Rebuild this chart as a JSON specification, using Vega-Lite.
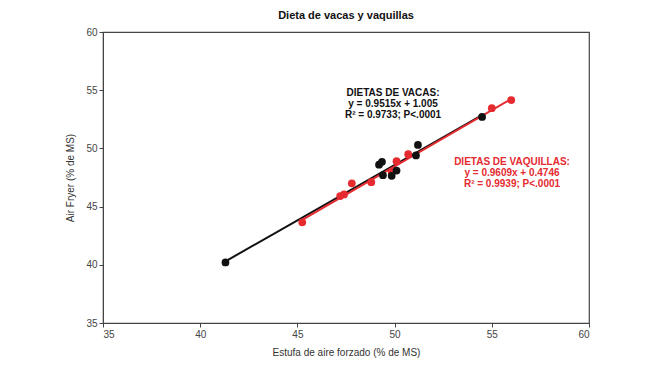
{
  "$schema": "https://vega.github.io/schema/vega-lite/v6.json",
  "width": 486,
  "height": 291,
  "autosize": "none",
  "padding": {"left": 103, "top": 32, "right": 74, "bottom": 50},
  "background": "white",
  "title": {"text": "Dieta de vacas y vaquillas", "fontSize": 11, "font": "Liberation Sans", "fontWeight": "bold", "color": "#111", "offset": 6},
  "config": {
    "view": {"stroke": "#444", "strokeWidth": 1.2},
    "axis": {"grid": false, "domainColor": "#444", "tickColor": "#444", "labelColor": "#444", "labelFont": "Liberation Sans", "labelFontSize": 10, "titleFont": "Liberation Sans", "titleFontSize": 10, "titleFontWeight": "normal", "titleColor": "#333", "tickSize": 4}
  },
  "datasets": {
    "points": [
      {"grupo": "Vacas", "estufa": 41.3, "airfryer": 40.2},
      {"grupo": "Vacas", "estufa": 49.2, "airfryer": 48.6},
      {"grupo": "Vacas", "estufa": 49.35, "airfryer": 48.85},
      {"grupo": "Vacas", "estufa": 49.4, "airfryer": 47.7},
      {"grupo": "Vacas", "estufa": 49.85, "airfryer": 47.65},
      {"grupo": "Vacas", "estufa": 50.1, "airfryer": 48.1},
      {"grupo": "Vacas", "estufa": 51.1, "airfryer": 49.4},
      {"grupo": "Vacas", "estufa": 51.2, "airfryer": 50.3},
      {"grupo": "Vacas", "estufa": 54.5, "airfryer": 52.7},
      {"grupo": "Vaquillas", "estufa": 45.25, "airfryer": 43.65},
      {"grupo": "Vaquillas", "estufa": 47.2, "airfryer": 45.9},
      {"grupo": "Vaquillas", "estufa": 47.4, "airfryer": 46.05},
      {"grupo": "Vaquillas", "estufa": 47.8, "airfryer": 47.0},
      {"grupo": "Vaquillas", "estufa": 48.8, "airfryer": 47.1},
      {"grupo": "Vaquillas", "estufa": 49.85, "airfryer": 48.0},
      {"grupo": "Vaquillas", "estufa": 50.1, "airfryer": 48.9},
      {"grupo": "Vaquillas", "estufa": 50.7, "airfryer": 49.5},
      {"grupo": "Vaquillas", "estufa": 55.0, "airfryer": 53.45},
      {"grupo": "Vaquillas", "estufa": 56.0, "airfryer": 54.15}
    ],
    "lines": [
      {"grupo": "Vacas", "estufa": 41.3, "airfryer": 40.3},
      {"grupo": "Vacas", "estufa": 54.5, "airfryer": 52.86},
      {"grupo": "Vaquillas", "estufa": 45.25, "airfryer": 43.85},
      {"grupo": "Vaquillas", "estufa": 56.0, "airfryer": 54.25}
    ],
    "labels": [
      {"grupo": "Vacas", "estufa": 49.92, "airfryer": 54.76, "texto": "DIETAS DE VACAS:"},
      {"grupo": "Vacas", "estufa": 49.92, "airfryer": 53.81, "texto": "y = 0.9515x + 1.005"},
      {"grupo": "Vacas", "estufa": 49.92, "airfryer": 52.86, "texto": "R² = 0.9733; P<.0001"},
      {"grupo": "Vaquillas", "estufa": 56.04, "airfryer": 48.83, "texto": "DIETAS DE VAQUILLAS:"},
      {"grupo": "Vaquillas", "estufa": 56.04, "airfryer": 47.88, "texto": "y = 0.9609x + 0.4746"},
      {"grupo": "Vaquillas", "estufa": 56.04, "airfryer": 46.93, "texto": "R² = 0.9939; P<.0001"}
    ]
  },
  "encoding": {
    "x": {"field": "estufa", "type": "quantitative", "scale": {"domain": [35, 60], "nice": false, "zero": false}, "axis": {"title": "Estufa de aire forzado (% de MS)", "values": [35, 40, 45, 50, 55, 60], "titlePadding": 8}},
    "y": {"field": "airfryer", "type": "quantitative", "scale": {"domain": [35, 60], "nice": false, "zero": false}, "axis": {"title": "Air Fryer (% de MS)", "values": [35, 40, 45, 50, 55, 60], "titlePadding": 10}},
    "color": {"field": "grupo", "type": "nominal", "scale": {"domain": ["Vacas", "Vaquillas"], "range": ["#111111", "#e52a30"]}, "legend": null}
  },
  "layer": [
    {"data": {"name": "lines"}, "mark": {"type": "line", "strokeWidth": 2}, "encoding": {"detail": {"field": "grupo"}}},
    {"data": {"name": "points"}, "transform": [{"filter": "datum.grupo == 'Vaquillas'"}], "mark": {"type": "circle", "size": 60, "opacity": 1}},
    {"data": {"name": "points"}, "transform": [{"filter": "datum.grupo == 'Vacas'"}], "mark": {"type": "circle", "size": 60, "opacity": 1}},
    {"data": {"name": "labels"}, "mark": {"type": "text", "font": "Liberation Sans", "fontWeight": "bold", "fontSize": 10, "align": "center", "baseline": "middle"}, "encoding": {"text": {"field": "texto"}}}
  ]
}
